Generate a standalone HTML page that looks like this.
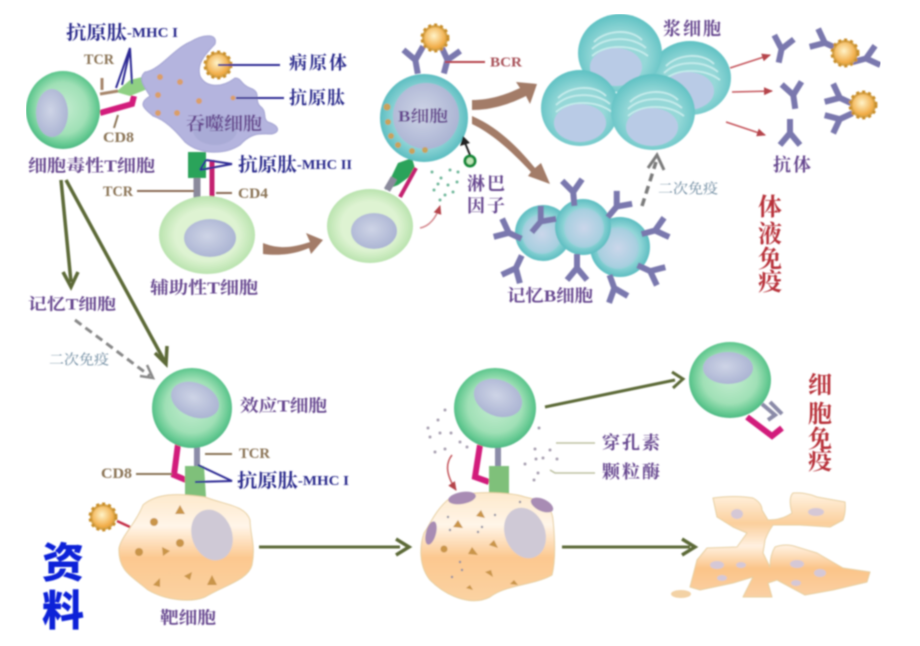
<!DOCTYPE html>
<html><head><meta charset="utf-8"><style>
html,body{margin:0;padding:0;background:#fff;width:920px;height:646px;overflow:hidden}
svg{display:block}
text{font-family:"Liberation Serif","Noto Serif CJK SC","Noto Sans CJK SC",serif;font-weight:700;dominant-baseline:central}
.p{fill:#66468f}.n{fill:#2b2c8c}.b{fill:#8a7355;font-size:15px}.g{fill:#6d8aa0;font-size:14px;font-weight:400}.r{fill:#b8333a;font-size:24px}
</style></head><body>
<svg width="920" height="646" viewBox="0 0 920 646" xmlns="http://www.w3.org/2000/svg">
<defs>
<radialGradient id="tg" cx=".5" cy=".48" r=".55"><stop offset="0" stop-color="#c4ecd0"/><stop offset=".6" stop-color="#a0e0b6"/><stop offset=".85" stop-color="#62c890"/><stop offset="1" stop-color="#42b07c"/></radialGradient>
<radialGradient id="hg" cx=".5" cy=".5" r=".55"><stop offset=".6" stop-color="#def3d2"/><stop offset="1" stop-color="#afdea4"/></radialGradient>
<radialGradient id="bg" cx=".5" cy=".5" r=".55"><stop offset=".6" stop-color="#93d6d8"/><stop offset="1" stop-color="#4cb6ba"/></radialGradient>
<radialGradient id="ng" cx=".45" cy=".45" r=".6"><stop offset="0" stop-color="#ced4e6"/><stop offset="1" stop-color="#a9b2d2"/></radialGradient>
<radialGradient id="nl" cx=".5" cy=".5" r=".55"><stop offset="0" stop-color="#cbd6ea"/><stop offset=".8" stop-color="#a9cfe0"/><stop offset="1" stop-color="#90cfd8"/></radialGradient>
<radialGradient id="pc" cx=".5" cy=".55" r=".56"><stop offset=".55" stop-color="#96d8d8"/><stop offset="1" stop-color="#5cc0c2"/></radialGradient>
<linearGradient id="og" x1="0" y1="0" x2="0" y2="1"><stop offset="0" stop-color="#fde9cc"/><stop offset=".3" stop-color="#fff5e8"/><stop offset=".6" stop-color="#fcc88f"/><stop offset="1" stop-color="#fbd2a2"/></linearGradient>
<linearGradient id="dg" gradientUnits="userSpaceOnUse" x1="0" y1="495" x2="0" y2="597"><stop offset="0" stop-color="#fff0dc"/><stop offset=".28" stop-color="#fbcf9c"/><stop offset=".5" stop-color="#fff0e0"/><stop offset=".72" stop-color="#fbc488"/><stop offset="1" stop-color="#fad0a4"/></linearGradient>
<radialGradient id="pa" cx=".45" cy=".4" r=".6"><stop offset="0" stop-color="#fff3c8"/><stop offset="1" stop-color="#f0a63c"/></radialGradient>
<g id="ab"><path d="M0 2 L0 16 M0 2 L-10 -10 M0 2 L10 -10" fill="none" stroke="#7a78ae" stroke-width="6" stroke-linejoin="round"/></g>
<g id="path"><circle r="13" fill="#d8a448" stroke="#c98f2c" stroke-width="3" stroke-dasharray="3 3"/><circle r="10.5" fill="url(#pa)"/></g>
<g id="ps"><path d="M-24 -8 C-12 -20 12 -22 24 -10 M-26 -1 C-12 -14 14 -14 28 -2 M-26 6 C-12 -6 14 -6 30 6" fill="none" stroke="#c6ecec" stroke-width="1.8"/><ellipse cx="-2" cy="17" rx="26" ry="19" fill="#b9cbe6"/></g>
<marker id="r" markerWidth="9" markerHeight="8" refX="8" refY="4" orient="auto" markerUnits="userSpaceOnUse"><path d="M0 0L9 4L0 8Z" fill="#b5444c"/></marker>
<filter id="bl" x="0" y="0" width="100%" height="100%"><feGaussianBlur stdDeviation=".9"/></filter>
</defs>
<rect width="920" height="646" fill="#fff"/>
<g filter="url(#bl)">

<!-- Upper left: cytotoxic T + phagocyte -->
<path d="M116 92 L130 80 L146 76 L150 88 L130 96Z" fill="#8fd083"/>
<path d="M100 94 L118 91 M102 90 L102 78" stroke="#a6856a" stroke-width="3" fill="none"/>
<path d="M100 113 L132 104 L134 96" stroke="#d21f7c" stroke-width="6" fill="none"/>
<ellipse cx="63" cy="110" rx="37" ry="39" fill="url(#tg)"/>
<ellipse cx="52" cy="113" rx="16" ry="24" fill="url(#ng)"/>
<path d="M145 72 C160 70 172 50 190 42 C205 33 218 34 215 44 C208 52 196 62 200 76 C206 88 222 88 235 78 C242 78 240 84 250 88 C262 92 254 100 260 106 C268 112 262 118 268 122 C280 126 280 132 272 134 C260 134 252 132 240 145 C225 155 200 155 185 142 C175 130 165 120 153 116 C146 110 136 104 150 96 C143 85 138 78 145 72Z" fill="#b4b4de" stroke="#a4a4d2"/>
<ellipse cx="215" cy="130" rx="22" ry="15" fill="#a9abd6"/>
<g fill="#d99f6a"><circle cx="160" cy="77" r="3"/><circle cx="180" cy="82" r="3"/><circle cx="158" cy="95" r="3"/><circle cx="199" cy="101" r="3"/><circle cx="233" cy="98" r="2.5"/><circle cx="158" cy="113" r="3"/><circle cx="177" cy="113" r="3"/></g>
<use href="#path" x="218" y="65"/>
<path d="M218 65 H280 M236 98 H284" stroke="#2d2c94" stroke-width="2" fill="none"/>
<path d="M116 88 L130 48 L132 84 M122 85 L130 50" stroke="#2d2c94" stroke-width="2" fill="none"/>
<path d="M118 115 L114 128" stroke="#8a7355" stroke-width="2"/>
<text class="n" x="66" y="33" textLength="112" lengthAdjust="spacingAndGlyphs"><tspan font-size="19">抗原肽</tspan><tspan font-size="14">-MHC I</tspan></text>
<text class="b" x="84" y="60" textLength="30" lengthAdjust="spacingAndGlyphs">TCR</text>
<text class="b" x="103" y="138" textLength="31" lengthAdjust="spacingAndGlyphs">CD8</text>
<text class="n" x="289" y="63" font-size="18" textLength="58">病原体</text>
<text class="n" x="289" y="98" font-size="18" textLength="56">抗原肽</text>
<text class="p" x="186" y="124" font-size="18" textLength="76" lengthAdjust="spacingAndGlyphs">吞噬细胞</text>
<text class="p" x="28" y="166" font-size="17" textLength="127" lengthAdjust="spacingAndGlyphs">细胞毒性T细胞</text>

<!-- Helper T -->
<path d="M188 152 H206 V178 H188Z" fill="#29a35a"/>
<path d="M197 178 V198" stroke="#8b8a9c" stroke-width="7"/>
<path d="M212 160 V198" stroke="#c4246f" stroke-width="5"/>
<path d="M200 170 L232 164 L206 160 M200 170 L206 160" stroke="#2d2c94" stroke-width="2" fill="none"/>
<path d="M137 191 H194 M216 193 H232" stroke="#8a6a52" stroke-width="2"/>
<ellipse cx="207" cy="235" rx="48" ry="39" fill="url(#hg)"/>
<ellipse cx="210" cy="238" rx="26" ry="19" fill="url(#ng)"/>
<text class="n" x="238" y="165" textLength="114" lengthAdjust="spacingAndGlyphs"><tspan font-size="19">抗原肽</tspan><tspan font-size="14">-MHC II</tspan></text>
<text class="b" x="103" y="192" textLength="30" lengthAdjust="spacingAndGlyphs">TCR</text>
<text class="b" x="238" y="194" textLength="30" lengthAdjust="spacingAndGlyphs">CD4</text>
<text class="p" x="150" y="288" font-size="17" textLength="108" lengthAdjust="spacingAndGlyphs">辅助性T细胞</text>
<path d="M263 243 C280 250 295 247 310 242 L306 233 L323 240 L311 254 L309 248 C295 254 280 256 263 254Z" fill="#a37c68"/>

<!-- B cell activation -->
<path d="M385 190 L398 163 L412 158 L416 172 L398 185Z" fill="#29a35a"/>
<path d="M387 190 L394 178" stroke="#8b8a9c" stroke-width="7"/>
<path d="M400 197 L416 168" stroke="#c4246f" stroke-width="4"/>
<ellipse cx="370" cy="226" rx="43" ry="37" fill="url(#hg)"/>
<ellipse cx="374" cy="231" rx="23" ry="18" fill="url(#ng)"/>
<use href="#ab" x="415" y="58" transform="rotate(-10 415 58)"/>
<use href="#ab" x="448" y="58" transform="rotate(15 448 58)"/>
<use href="#path" x="435" y="38"/>
<circle cx="424" cy="118" r="44" fill="url(#bg)"/>
<circle cx="426" cy="116" r="33" fill="url(#ng)"/>
<g fill="#c8a35c"><circle cx="387" cy="107" r="3.5"/><circle cx="388" cy="122" r="3"/><circle cx="391" cy="136" r="3"/><circle cx="398" cy="145" r="3"/><circle cx="412" cy="151" r="3"/><circle cx="425" cy="150" r="3"/></g>
<text class="p" x="398" y="117" font-size="16" textLength="50" lengthAdjust="spacingAndGlyphs">B细胞</text>
<path d="M445 62 H485" stroke="#b5444c" stroke-width="2"/>
<text x="490" y="63" font-size="14" fill="#a9525a" textLength="32" lengthAdjust="spacingAndGlyphs">BCR</text>
<path d="M420 228 C430 226 436 218 440 206" fill="none" stroke="#d4868c" stroke-width="1.5" marker-end="url(#r)"/>
<g fill="#6fb79a"><circle cx="432" cy="172" r="1.5"/><circle cx="441" cy="178" r="1.5"/><circle cx="450" cy="170" r="1.5"/><circle cx="458" cy="172" r="1.5"/><circle cx="438" cy="184" r="1.5"/><circle cx="448" cy="185" r="1.5"/><circle cx="457" cy="182" r="1.5"/><circle cx="434" cy="190" r="1.5"/><circle cx="445" cy="195" r="1.5"/><circle cx="453" cy="192" r="1.5"/><circle cx="440" cy="200" r="1.5"/></g>
<circle cx="470" cy="161" r="5" fill="#bfe6b8" stroke="#158a3a" stroke-width="3"/>
<path d="M470 155 L463 138" stroke="#222" stroke-width="2"/><path d="M460 146 L463 136 L470 143Z" fill="#222"/>
<text class="p" x="467" y="184" font-size="18" textLength="38">淋巴</text>
<text class="p" x="467" y="206" font-size="18" textLength="38">因子</text>
<path d="M472 100 C490 100 505 95 520 88 L516 82 L537 84 L530 104 L526 96 C510 104 492 110 472 110Z" fill="#a37c68"/>
<path d="M472 116 C500 128 520 150 535 168 L541 163 L550 184 L528 176 L531 172 C515 155 495 135 472 124Z" fill="#a37c68"/>

<!-- Plasma cells -->
<g>
<ellipse cx="690" cy="78" rx="41" ry="37" fill="url(#pc)"/><use href="#ps" x="690" y="74"/>
<ellipse cx="620" cy="53" rx="42" ry="39" fill="url(#pc)"/><use href="#ps" x="618" y="50"/>
<ellipse cx="580" cy="108" rx="39" ry="38" fill="url(#pc)"/><use href="#ps" x="582" y="106"/>
<ellipse cx="653" cy="112" rx="42" ry="38" fill="url(#pc)"/><use href="#ps" x="654" y="110"/>
</g>
<text class="p" x="663" y="29" font-size="18" textLength="58">浆细胞</text>
<path d="M730 68 L770 55" stroke="#c5555c" stroke-width="1.5" fill="none" marker-end="url(#r)"/>
<path d="M732 92 L772 91" stroke="#c5555c" stroke-width="1.5" fill="none" marker-end="url(#r)"/>
<path d="M726 122 L765 135" stroke="#c5555c" stroke-width="1.5" fill="none" marker-end="url(#r)"/>
<use href="#ab" transform="translate(782 47) rotate(12)"/>
<use href="#ab" transform="translate(793 93) rotate(-8)"/>
<use href="#ab" transform="translate(790 135) rotate(180)"/>
<use href="#ab" transform="translate(823 42) rotate(-65)"/>
<use href="#ab" transform="translate(868 58) rotate(75)"/>
<use href="#ab" transform="translate(838 97) rotate(-65)"/>
<use href="#ab" transform="translate(838 120) rotate(-115)"/>
<use href="#path" x="845" y="53"/>
<use href="#path" x="863" y="105"/>
<text class="p" x="773" y="165" font-size="18" textLength="38">抗体</text>
<text class="r" x="758" y="208">体</text><text class="r" x="758" y="235">液</text><text class="r" x="758" y="260">免</text><text class="r" x="758" y="283">疫</text>

<!-- Memory B -->
<path d="M642 206 L656 162" stroke="#7c7c7c" stroke-width="3.5" stroke-dasharray="8 5" fill="none"/>
<path d="M648 168 L657 155 L664 170" stroke="#7c7c7c" stroke-width="3" fill="none"/>
<text class="g" x="658" y="190" textLength="60" lengthAdjust="spacingAndGlyphs">二次免疫</text>
<circle cx="620" cy="247" r="30" fill="url(#bg)"/><circle cx="618" cy="248" r="21" fill="url(#nl)"/>
<circle cx="543" cy="233" r="28" fill="url(#bg)"/><circle cx="542" cy="234" r="20" fill="url(#nl)"/>
<circle cx="583" cy="227" r="28" fill="url(#bg)"/><circle cx="584" cy="228" r="20" fill="url(#nl)"/>
<use href="#ab" transform="translate(573 190) rotate(-5)"/>
<use href="#ab" transform="translate(618 205) rotate(40)"/>
<use href="#ab" transform="translate(657 230) rotate(75)"/>
<use href="#ab" transform="translate(652 272) rotate(115)"/>
<use href="#ab" transform="translate(615 290) rotate(160)"/>
<use href="#ab" transform="translate(577 270) rotate(180)"/>
<use href="#ab" transform="translate(515 270) rotate(205)"/>
<use href="#ab" transform="translate(507 232) rotate(-65)"/>
<use href="#ab" transform="translate(542 220) rotate(40)"/>
<text class="p" x="507" y="296" font-size="17" textLength="86" lengthAdjust="spacingAndGlyphs">记忆B细胞</text>

<!-- Memory T arrows -->
<path d="M61 180 L71 282" stroke="#5d6b38" stroke-width="3.5" fill="none"/>
<path d="M63 272 L71 287 L78 272" stroke="#5d6b38" stroke-width="3.5" fill="none"/>
<path d="M66 180 L165 362" stroke="#5d6b38" stroke-width="3.5" fill="none"/>
<path d="M155 353 L166 364 L167 346" stroke="#5d6b38" stroke-width="3.5" fill="none"/>
<text class="p" x="28" y="305" font-size="16" textLength="88" lengthAdjust="spacingAndGlyphs">记忆T细胞</text>
<path d="M75 320 L150 376" stroke="#888" stroke-width="3" stroke-dasharray="8 5" fill="none"/>
<path d="M140 376 L153 378 L147 365" stroke="#888" stroke-width="2.5" fill="none"/>
<text class="g" x="49" y="361" textLength="60" lengthAdjust="spacingAndGlyphs">二次免疫</text>

<!-- Effector + target -->
<path d="M178 444 L174 475 L186 480" stroke="#d21f7c" stroke-width="6" fill="none"/>
<path d="M197 445 V470" stroke="#8b8ba8" stroke-width="6"/>
<ellipse cx="192" cy="408" rx="40" ry="40" fill="url(#tg)"/>
<ellipse cx="195" cy="400" rx="25" ry="17" transform="rotate(22 195 400)" fill="url(#ng)"/>
<path d="M205 454 H232 M136 474 H172" stroke="#8a7355" stroke-width="2"/>
<path d="M185 466 H204 L206 497 H185Z" fill="#7fc07a"/>
<path d="M198 465 L232 481 L195 482" stroke="#2d2c94" stroke-width="2" fill="none"/>
<text class="b" x="239" y="454" textLength="31" lengthAdjust="spacingAndGlyphs">TCR</text>
<text class="b" x="101" y="474" textLength="31" lengthAdjust="spacingAndGlyphs">CD8</text>
<text class="n" x="237" y="481" textLength="112" lengthAdjust="spacingAndGlyphs"><tspan font-size="19">抗原肽</tspan><tspan font-size="14">-MHC I</tspan></text>
<text class="p" x="240" y="406" font-size="17" textLength="87" lengthAdjust="spacingAndGlyphs">效应T细胞</text>
<path d="M143 505 C160 490 190 495 205 497 C225 505 245 505 250 520 C250 535 256 545 252 565 C248 580 225 585 205 597 C190 603 165 600 148 590 C130 575 118 570 119 548 C122 535 135 525 143 505Z" fill="url(#og)" stroke="#e7cfa0"/>
<ellipse cx="212" cy="535" rx="20" ry="26" transform="rotate(-20 212 535)" fill="#cfc9d6"/>
<g fill="#c9954a"><path d="M180 505 L185 514 L175 514Z"/><circle cx="154" cy="522" r="4"/><circle cx="139" cy="552" r="4"/><path d="M162 547 L170 551 L163 556Z"/><circle cx="180" cy="543" r="4"/><path d="M153 585 L160 578 L160 587Z"/><path d="M184 576 L192 572 L190 580Z"/><path d="M212 575 L217 585 L207 585Z"/></g>
<use href="#path" x="103" y="517"/>
<path d="M117 521 L130 527" stroke="#c5304a" stroke-width="2.5"/>
<text class="p" x="160" y="618" font-size="17" textLength="56" lengthAdjust="spacingAndGlyphs">靶细胞</text>
<path d="M259 547 H400" stroke="#5d6b38" stroke-width="3"/>
<path d="M396 539 L409 547 L396 555" stroke="#5d6b38" stroke-width="3.5" fill="none"/>
<text x="42" y="560" font-size="42" style="fill:#0d20d8;font-weight:900;font-family:'Noto Sans CJK SC',sans-serif">资</text>
<text x="42" y="608" font-size="42" style="fill:#0d20d8;font-weight:900;font-family:'Noto Sans CJK SC',sans-serif">料</text>

<!-- Second stage -->
<path d="M480 445 L475 477 L489 482" stroke="#d21f7c" stroke-width="6" fill="none"/>
<path d="M498 445 V468" stroke="#8b8ba8" stroke-width="6"/>
<rect x="489" y="466" width="20" height="28" fill="#7fc07a"/>
<ellipse cx="495" cy="408" rx="41" ry="40" fill="url(#tg)"/>
<ellipse cx="498" cy="398" rx="25" ry="18" transform="rotate(22 498 398)" fill="url(#ng)"/>
<g fill="#a89fb0"><circle cx="445" cy="410" r="1.5"/><circle cx="438" cy="420" r="1.5"/><circle cx="428" cy="428" r="1.5"/><circle cx="440" cy="433" r="1.5"/><circle cx="451" cy="433" r="1.5"/><circle cx="430" cy="437" r="1.5"/><circle cx="460" cy="442" r="1.5"/><circle cx="467" cy="447" r="1.5"/><circle cx="445" cy="449" r="1.5"/><circle cx="435" cy="452" r="1.5"/><circle cx="535" cy="449" r="1.5"/><circle cx="536" cy="459" r="1.5"/><circle cx="550" cy="450" r="1.5"/><circle cx="543" cy="458" r="1.5"/><circle cx="557" cy="459" r="1.5"/><circle cx="525" cy="464" r="1.5"/><circle cx="538" cy="473" r="1.5"/><circle cx="534" cy="480" r="1.5"/><circle cx="539" cy="428" r="1.5"/></g>
<path d="M452 455 C444 465 448 478 456 490" stroke="#c5555c" stroke-width="1.5" fill="none" marker-end="url(#r)"/>
<path d="M556 443 H595 M550 470 L555 473 H595" stroke="#bcc0a0" stroke-width="1.5" fill="none"/>
<text class="p" x="602" y="443" font-size="18" textLength="58">穿孔素</text>
<text class="p" x="602" y="472" font-size="18" textLength="58">颗粒酶</text>
<path d="M450 498 C470 490 510 492 525 497 C540 500 552 505 553 520 C555 540 556 560 552 575 C535 585 505 585 490 597 C470 607 445 595 430 580 C418 565 420 545 424 533 C430 525 435 510 450 498Z" fill="url(#og)" stroke="#e7cfa0"/>
<ellipse cx="525" cy="533" rx="20" ry="26" transform="rotate(-22 525 533)" fill="#cfc9d6"/>
<g fill="#a88cb4"><ellipse cx="462" cy="498" rx="14" ry="6" transform="rotate(-10 462 498)"/><ellipse cx="542" cy="505" rx="12" ry="6" transform="rotate(25 542 505)"/><ellipse cx="431" cy="533" rx="5" ry="12" transform="rotate(15 431 533)"/></g>
<g fill="#c9954a"><path d="M481 510 L485 518 L476 516Z"/><path d="M458 520 L463 528 L453 527Z"/><circle cx="444" cy="549" r="3.5"/><path d="M472 547 L478 555 L468 554Z"/><path d="M494 540 L498 548 L489 545Z"/><path d="M491 570 L493 577 L485 572Z"/><path d="M514 580 L518 585 L510 584Z"/><path d="M470 585 L473 590 L466 588Z"/></g>
<g fill="#8c8ca0"><circle cx="448" cy="517" r="1.2"/><circle cx="450" cy="530" r="1.2"/><circle cx="478" cy="532" r="1.2"/><circle cx="482" cy="527" r="1.2"/><circle cx="460" cy="562" r="1.2"/><circle cx="452" cy="577" r="1.2"/><circle cx="462" cy="570" r="1.2"/><circle cx="495" cy="515" r="1.2"/><circle cx="520" cy="502" r="1.2"/></g>
<path d="M545 407 L675 380" stroke="#5d6b38" stroke-width="3" fill="none"/>
<path d="M672 372 L683 379 L673 388" stroke="#5d6b38" stroke-width="3" fill="none"/>
<path d="M562 547 H690" stroke="#5d6b38" stroke-width="3"/>
<path d="M682 539 L695 547 L682 555" stroke="#5d6b38" stroke-width="3.5" fill="none"/>

<!-- Released T cell -->
<path d="M762 404 L775 415 L768 420 M770 402 L782 414" stroke="#8b8ba8" stroke-width="4" fill="none"/>
<path d="M747 417 L772 436 L782 428" stroke="#d21f7c" stroke-width="6" fill="none"/>
<ellipse cx="730" cy="380" rx="41" ry="38" fill="url(#tg)"/>
<ellipse cx="728" cy="368" rx="25" ry="16" fill="url(#ng)"/>
<text class="r" x="808" y="386">细</text>
<text class="r" x="808" y="415">胞</text>
<text class="r" x="808" y="440">免</text>
<text class="r" x="808" y="462">疫</text>

<!-- Dead target cell -->
<path d="M713 498 Q735 495 753 498 Q762 503 762 510 L768 520 Q782 520 792 513 Q788 498 793 493 Q805 492 817 497 L845 502 Q846 512 843 520 L830 527 L800 525 L773 525 Q768 532 765 540 L763 553 L770 567 Q770 555 775 547 Q786 543 797 547 L817 553 L843 568 L870 572 L867 582 L833 590 L805 595 L777 580 L768 583 L772 597 L743 597 L753 577 L733 583 L700 590 L690 587 L697 560 L707 548 L737 547 L747 533 L733 527 L717 517 Z" fill="url(#dg)" stroke="#e7cfa0" stroke-linejoin="round"/>
<ellipse cx="681" cy="594" rx="10" ry="4" fill="#f3d2a5"/>
<g fill="#d5c8d6"><ellipse cx="737" cy="514" rx="6" ry="5"/><ellipse cx="816" cy="512" rx="8" ry="4"/><ellipse cx="717" cy="565" rx="7" ry="4"/><ellipse cx="741" cy="565" rx="5" ry="3"/><ellipse cx="722" cy="578" rx="5" ry="3"/><ellipse cx="797" cy="564" rx="7" ry="4"/><ellipse cx="820" cy="573" rx="6" ry="4"/><ellipse cx="796" cy="583" rx="5" ry="3"/></g>
</g>
</svg>
</body></html>
